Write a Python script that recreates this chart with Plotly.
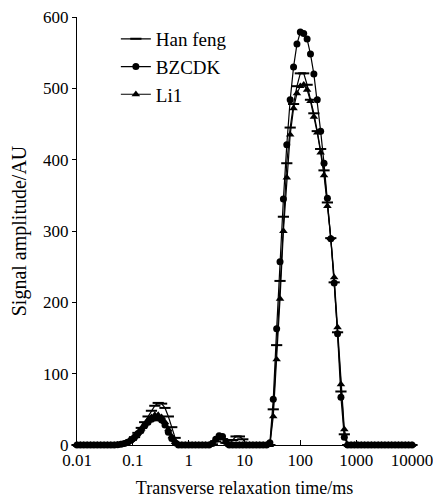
import numpy as np
import plotly.graph_objects as go

# T2 relaxation grid (ms), 100 log-spaced bins from 0.01 to 10000
t2_ms = np.logspace(-2, 4, 100)

han_feng = [
    0, 0, 0, 0, 0, 0, 0, 0, 0, 0,
    0, 0, 0.5, 1, 2, 4, 7, 11, 17, 24,
    32, 40, 48, 55, 59, 58, 52, 40, 25, 10,
    2, 0, 0, 0, 0, 0, 0, 0, 0, 0,
    1, 5, 9, 8, 3, 2, 7, 12, 12, 8,
    2, 0, 0, 0, 0, 0, 0, 0, 50, 140,
    230, 320, 395, 445, 478, 503, 521, 521, 505, 484,
    465, 440, 415, 385, 340, 290, 228, 158, 75, 15,
    0, 0, 0, 0, 0, 0, 0, 0, 0, 0,
    0, 0, 0, 0, 0, 0, 0, 0, 0, 0,
]

bzcdk = [
    0, 0, 0, 0, 0, 0, 0, 0, 0, 0,
    0, 0, 0.5, 1, 2, 4, 7, 11, 16, 21,
    27, 32, 36, 38, 38, 35, 28, 18, 9, 3,
    0, 0, 0, 0, 0, 0, 0, 0, 0, 0,
    2, 8, 13, 12, 5, 0, 0, 0, 0, 0,
    0, 0, 0, 0, 0, 0, 0, 3, 64, 163,
    257, 345, 421, 484, 530, 562, 579, 577, 569, 548,
    520, 484, 440, 395, 346, 289, 227, 156, 67, 11,
    0, 0, 0, 0, 0, 0, 0, 0, 0, 0,
    0, 0, 0, 0, 0, 0, 0, 0, 0, 0,
]

li1 = [
    0, 0, 0, 0, 0, 0, 0, 0, 0, 0,
    0, 0, 0.5, 1, 2, 4, 7, 12, 17, 23,
    29, 35, 39, 42, 42, 39, 32, 22, 12, 4,
    1, 0, 0, 0, 0, 0, 0, 0, 0, 0,
    2, 7, 11, 10, 4, 0, 0, 0, 0, 0,
    0, 0, 0, 0, 0, 0, 0, 0, 40, 120,
    205, 300, 375, 435, 472, 493, 503, 505, 498, 482,
    460, 438, 410, 378, 335, 290, 235, 165, 85, 22,
    0, 0, 0, 0, 0, 0, 0, 0, 0, 0,
    0, 0, 0, 0, 0, 0, 0, 0, 0, 0,
]

x_tick_vals = [0.01, 0.1, 1, 10, 100, 1000, 10000]
x_tick_text = ["0.01", "0.1", "1", "10", "100", "1000", "10000"]
y_tick_vals = [0, 100, 200, 300, 400, 500, 600]

FONT = "Times New Roman, Liberation Serif, serif"
BLACK = "black"

fig = go.Figure()

fig.add_trace(go.Scatter(
    x=t2_ms, y=han_feng, name="Han feng", mode="lines+markers",
    line=dict(color=BLACK, width=1.2),
    marker=dict(symbol="line-ew", size=8, color=BLACK,
                line=dict(color=BLACK, width=2)),
    cliponaxis=False,
))
fig.add_trace(go.Scatter(
    x=t2_ms, y=bzcdk, name="BZCDK", mode="lines+markers",
    line=dict(color=BLACK, width=1.2),
    marker=dict(symbol="circle", size=7, color=BLACK),
    cliponaxis=False,
))
fig.add_trace(go.Scatter(
    x=t2_ms, y=li1, name="Li1", mode="lines+markers",
    line=dict(color=BLACK, width=1.2),
    marker=dict(symbol="triangle-up", size=7.5, color=BLACK),
    cliponaxis=False,
))

fig.update_layout(
    width=433, height=498,
    margin=dict(l=77, r=21, t=17, b=53),
    paper_bgcolor="white", plot_bgcolor="white",
    font=dict(family=FONT, size=17, color=BLACK),
    showlegend=True,
    legend=dict(
        x=0.116, y=0.993, xanchor="left", yanchor="top",
        bgcolor="rgba(0,0,0,0)", borderwidth=0,
        font=dict(family=FONT, size=19, color=BLACK),
        itemwidth=30,
    ),
)

fig.update_xaxes(
    type="log", range=[-2, 4],
    tickvals=x_tick_vals, ticktext=x_tick_text,
    ticks="inside", ticklen=5, tickwidth=1.2, tickcolor=BLACK,
    ticklabelstandoff=-1, ticklabeloverflow="allow",
    showline=True, linecolor=BLACK, linewidth=1.3,
    showgrid=False, zeroline=False, automargin=False,
    tickfont=dict(family=FONT, size=17, color=BLACK),
    title=dict(text="Transverse relaxation time/ms",
               font=dict(family=FONT, size=18, color=BLACK), standoff=14),
)
fig.update_yaxes(
    range=[0, 600],
    tickvals=y_tick_vals,
    ticks="outside", ticklen=4, tickwidth=1.2, tickcolor=BLACK,
    showline=True, linecolor=BLACK, linewidth=1.3,
    showgrid=False, zeroline=False, automargin=False,
    tickfont=dict(family=FONT, size=17, color=BLACK),
    title=dict(text="Signal amplitude/AU",
               font=dict(family=FONT, size=20, color=BLACK), standoff=10),
)

fig.write_html("out.html")
